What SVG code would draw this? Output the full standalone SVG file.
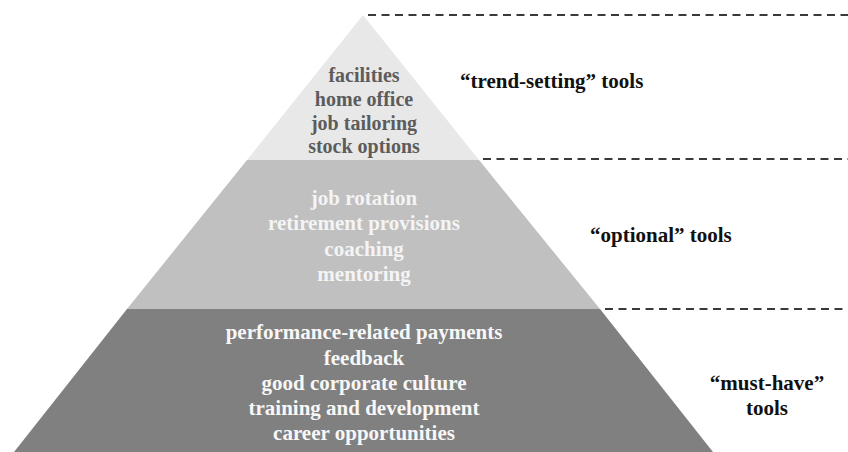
<svg xmlns="http://www.w3.org/2000/svg" width="848" height="452" viewBox="0 0 848 452">
  <style>
    .lbl { font-family: "Liberation Serif", "Times New Roman", serif; font-weight: bold; text-anchor: middle; }
    .top { font-size: 20px; fill: #5c5c5c; }
    .mid { font-size: 21px; fill: #f4f4f4; }
    .bot { font-size: 21px; fill: #f7f7f7; }
    .side { font-family: "Liberation Serif", "Times New Roman", serif; font-weight: bold; font-size: 21px; fill: #111; }
    .dash { stroke: #3a3a3a; stroke-width: 2; stroke-dasharray: 8 5.5; fill: none; }
  </style>

  <rect width="848" height="452" fill="#ffffff"/>

  <!-- tier boundaries -->
  <g id="connectors">
    <line class="dash" x1="368" y1="15" x2="848" y2="15"/>
    <line class="dash" x1="483" y1="159" x2="848" y2="159"/>
    <line class="dash" x1="605" y1="309" x2="848" y2="309"/>
  </g>

  <!-- top tier -->
  <g id="tier-trend-setting">
    <polygon points="363,15 479,160 247,160" fill="#e8e8e8"/>
    <text class="lbl top" x="364" y="82">facilities</text>
    <text class="lbl top" x="364" y="106">home office</text>
    <text class="lbl top" x="364" y="130">job tailoring</text>
    <text class="lbl top" x="364" y="153">stock options</text>
  </g>

  <!-- middle tier -->
  <g id="tier-optional">
    <polygon points="247,160 479,160 600,309 127,309" fill="#c0c0c0"/>
    <text class="lbl mid" x="364" y="205">job rotation</text>
    <text class="lbl mid" x="364" y="230">retirement provisions</text>
    <text class="lbl mid" x="364" y="256">coaching</text>
    <text class="lbl mid" x="364" y="281">mentoring</text>
  </g>

  <!-- bottom tier -->
  <g id="tier-must-have">
    <polygon points="127,309 600,309 713,452 14,452" fill="#808080"/>
    <text class="lbl bot" x="364" y="339">performance-related payments</text>
    <text class="lbl bot" x="364" y="365">feedback</text>
    <text class="lbl bot" x="364" y="390">good corporate culture</text>
    <text class="lbl bot" x="364" y="415">training and development</text>
    <text class="lbl bot" x="364" y="440">career opportunities</text>
  </g>

  <!-- category labels -->
  <g id="label-trend-setting">
    <text class="side" x="460" y="88">“trend-setting” tools</text>
  </g>
  <g id="label-optional">
    <text class="side" x="590" y="242">“optional” tools</text>
  </g>
  <g id="label-must-have">
    <text class="side" x="767" y="390" text-anchor="middle">“must-have”</text>
    <text class="side" x="767" y="415" text-anchor="middle">tools</text>
  </g>
</svg>
